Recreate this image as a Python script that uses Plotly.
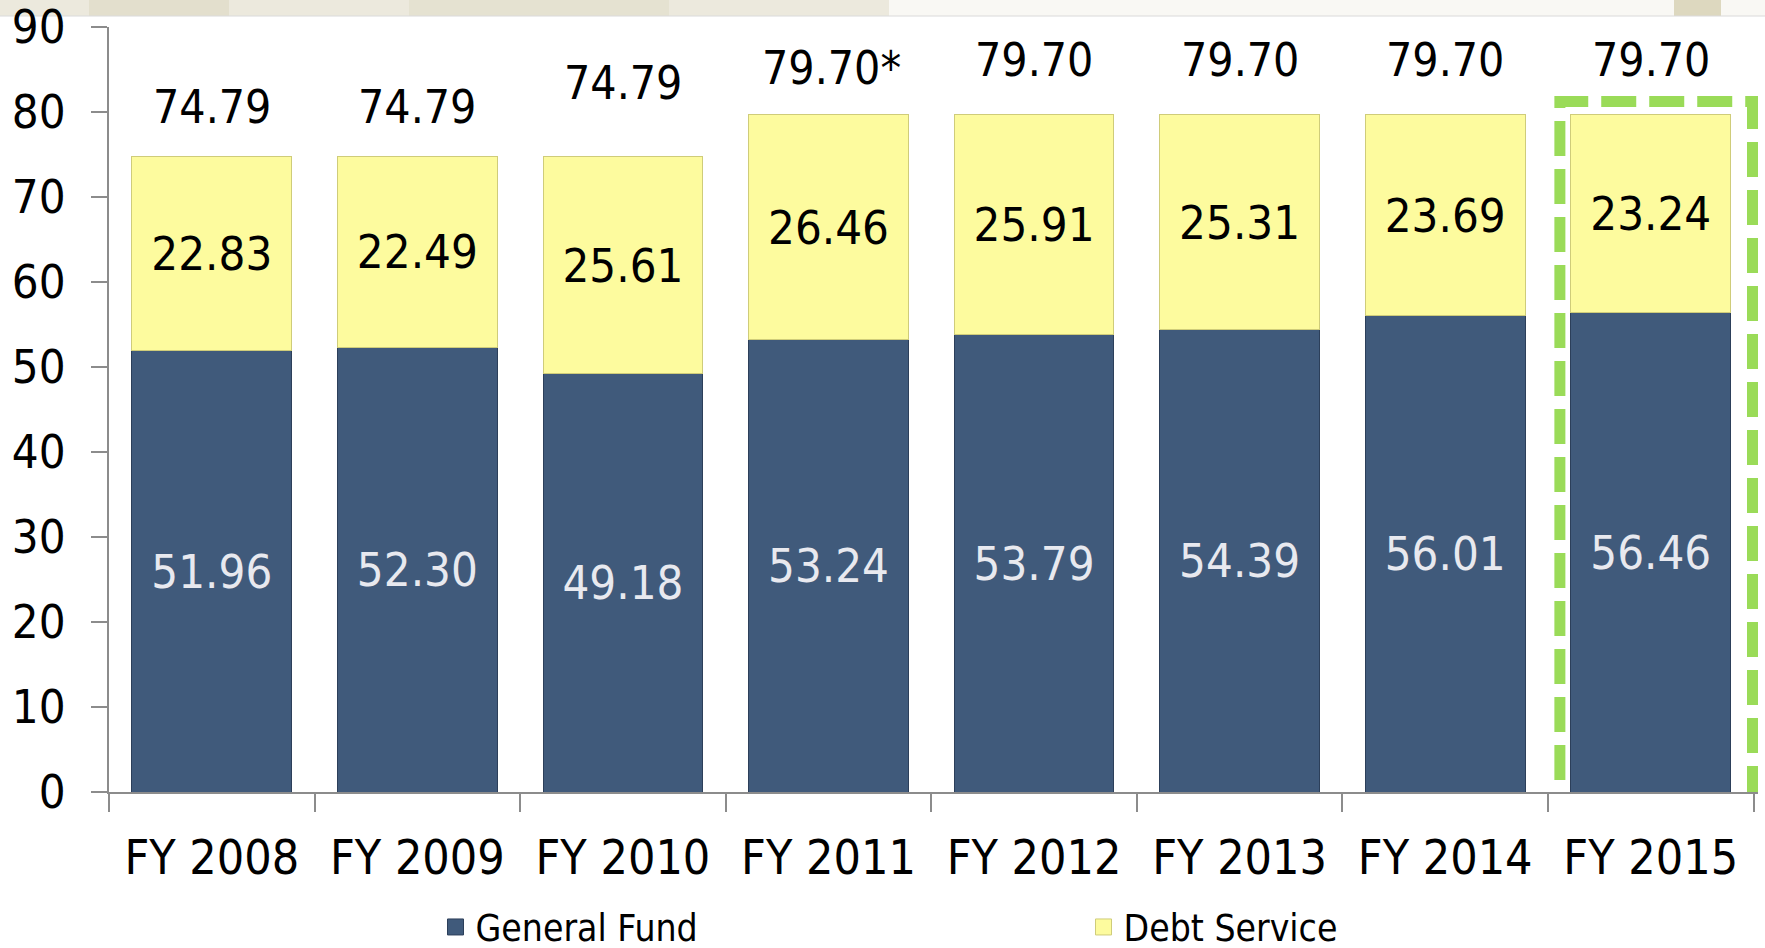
import plotly.graph_objects as go

# fiscal years and the two stacked pieces of the rate
years = ["FY 2008", "FY 2009", "FY 2010", "FY 2011", "FY 2012", "FY 2013", "FY 2014", "FY 2015"]
general_fund = [51.96, 52.30, 49.18, 53.24, 53.79, 54.39, 56.01, 56.46]
debt_service = [22.83, 22.49, 25.61, 26.46, 25.91, 25.31, 23.69, 23.24]
total_labels = ["74.79", "74.79", "74.79", "79.70*", "79.70", "79.70", "79.70", "79.70"]

FONT = "DejaVu Sans Condensed, DejaVu Sans, sans-serif"
BLUE, BLUE_EDGE = "#405A7B", "#2C3F5A"
YELLOW, YELLOW_EDGE = "#FDFB9E", "#CFCC7A"

fig = go.Figure()
fig.add_trace(go.Bar(
    x=years, y=general_fund, name="General Fund", showlegend=False,
    marker=dict(color=BLUE, line=dict(color=BLUE_EDGE, width=1)),
    texttemplate="%{y:.2f}", textposition="inside", insidetextanchor="middle",
    textangle=0, constraintext="none",
    textfont=dict(family=FONT, size=47, color="#E8E9EF"),
))
fig.add_trace(go.Bar(
    x=years, y=debt_service, name="Debt Service", showlegend=False,
    marker=dict(color=YELLOW, line=dict(color=YELLOW_EDGE, width=1)),
    texttemplate="%{y:.2f}", textposition="inside", insidetextanchor="middle",
    textangle=0, constraintext="none",
    textfont=dict(family=FONT, size=47, color="#000000"),
))
# legend-only entries so the swatches can be a bit bigger than bar swatches
for nm, col, edge in [("General Fund", BLUE, BLUE_EDGE), ("Debt Service", YELLOW, YELLOW_EDGE)]:
    fig.add_trace(go.Scatter(x=[None], y=[None], mode="markers", name=nm,
                             marker=dict(symbol="square", size=16, color=col,
                                         line=dict(color=edge, width=1))))

# total labels sit at uneven heights above the bars (as in the original slide)
label_lift = [49, 49, 73, 47, 55, 55, 55, 55]
for i, yr in enumerate(years):
    tot = general_fund[i] + debt_service[i]
    fig.add_annotation(x=yr, y=tot, text=total_labels[i], showarrow=False,
                       yshift=label_lift[i], xshift=3 if i == 3 else 0,
                       font=dict(family=FONT, size=46, color="#000000"))

# green dashed highlight box around the last year
hi = years.index("FY 2015")
fig.add_shape(type="rect", xref="x", yref="y",
              x0=hi - 0.442, x1=hi + 0.495, y0=-1.0,
              y1=general_fund[hi] + debt_service[hi] + 1.55,
              line=dict(color="#9ADB58", width=11, dash="35px,13px"))

# faint photo strip at the very top of the slide
strip = dict(type="rect", xref="paper", yref="paper", xsizemode="pixel", ysizemode="pixel",
             xanchor=0, yanchor=1, y0=11, y1=30, line_width=0, layer="below")
fig.add_shape(**strip, x0=-109, x1=780, fillcolor="#ECE9DD")
fig.add_shape(**strip, x0=-20, x1=120, fillcolor="#E3DFCD")
fig.add_shape(**strip, x0=300, x1=560, fillcolor="#E5E2D1")
fig.add_shape(**strip, x0=780, x1=1660, fillcolor="#F9F8F4")
fig.add_shape(**strip, x0=1565, x1=1612, fillcolor="#DDD8BF")
fig.add_shape(type="line", xref="paper", yref="paper", xsizemode="pixel", ysizemode="pixel",
              xanchor=0, yanchor=1, x0=-109, x1=1660, y0=11, y1=11,
              line=dict(color="#DADADA", width=1), layer="below")

fig.update_layout(
    barmode="stack", bargap=0.223,
    width=1765, height=948,
    margin=dict(l=109, r=7, t=27, b=156, autoexpand=False),
    paper_bgcolor="white", plot_bgcolor="white",
    font=dict(family=FONT, color="#000000"),
    showlegend=True,
    legend=dict(orientation="h", x=0.198, xanchor="left", y=-0.177, yanchor="middle",
                entrywidth=603, font=dict(family=FONT, size=37),
                traceorder="normal"),
)
fig.update_xaxes(
    showline=True, linecolor="#8C8C8C", linewidth=2, automargin=False,
    ticks="outside", ticklen=18, tickcolor="#8C8C8C", tickwidth=2,
    tickson="boundaries", ticklabelstandoff=22,
    tickfont=dict(family=FONT, size=48), showgrid=False,
)
fig.update_yaxes(
    range=[0, 90], dtick=10, automargin=False,
    showline=True, linecolor="#8C8C8C", linewidth=2,
    ticks="outside", ticklen=16, tickcolor="#8C8C8C", tickwidth=2,
    ticklabelstandoff=16, ticklabeloverflow="allow",
    tickfont=dict(family=FONT, size=47), showgrid=False, zeroline=False,
)

# the page body has a default 8px margin; drop it so the figure fills the window
fig.write_html("out.html", config={"displayModeBar": False},
               post_script="document.body.style.margin='0px';")
